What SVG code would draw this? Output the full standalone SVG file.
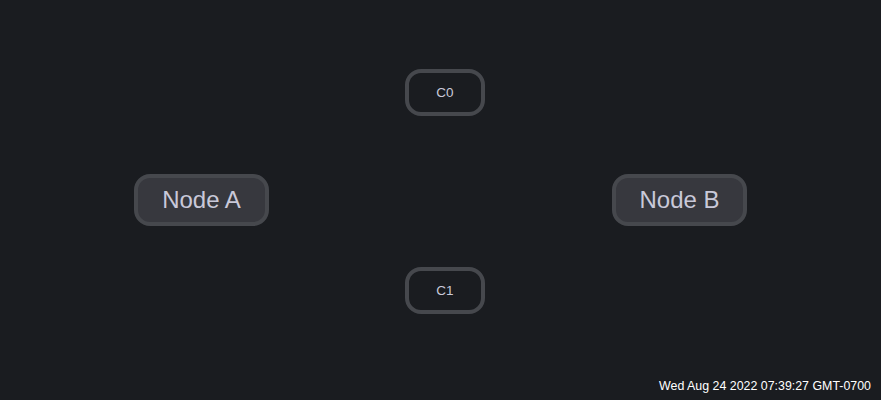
<svg xmlns="http://www.w3.org/2000/svg" width="881" height="400" viewBox="0 0 881 400">
<style>
.bg{fill:#1a1c20}
.big rect{fill:#37383e;stroke:#46484d;stroke-width:4}
.small rect{fill:#1a1c20;stroke:#46484d;stroke-width:4}
.big text{font-family:"Liberation Sans",Arial,sans-serif;font-size:24px;fill:#c9c9d9;text-anchor:middle;dominant-baseline:central}
.small text{font-family:"Liberation Sans",Arial,sans-serif;font-size:13.5px;fill:#c9c9d9;text-anchor:middle;dominant-baseline:central}
.ts{font-family:"Liberation Sans",Arial,sans-serif;font-size:12.4px;fill:#ffffff;text-anchor:end}
</style>
<rect class="bg" x="0" y="0" width="881" height="400"/>
<g id="connectors"></g>
<g id="nodeA" class="big"><rect x="136" y="176" width="131" height="48" rx="14"/><text x="201.5" y="199">Node A</text></g>
<g id="nodeB" class="big"><rect x="614" y="176" width="131" height="48" rx="14"/><text x="679.5" y="199">Node B</text></g>
<g id="c0" class="small"><rect x="407" y="71" width="76" height="43" rx="14"/><text x="445" y="92">C0</text></g>
<g id="c1" class="small"><rect x="407" y="269" width="76" height="43" rx="14"/><text x="445" y="290">C1</text></g>
<text class="ts" x="871" y="390">Wed Aug 24 2022 07:39:27 GMT-0700</text>
</svg>
